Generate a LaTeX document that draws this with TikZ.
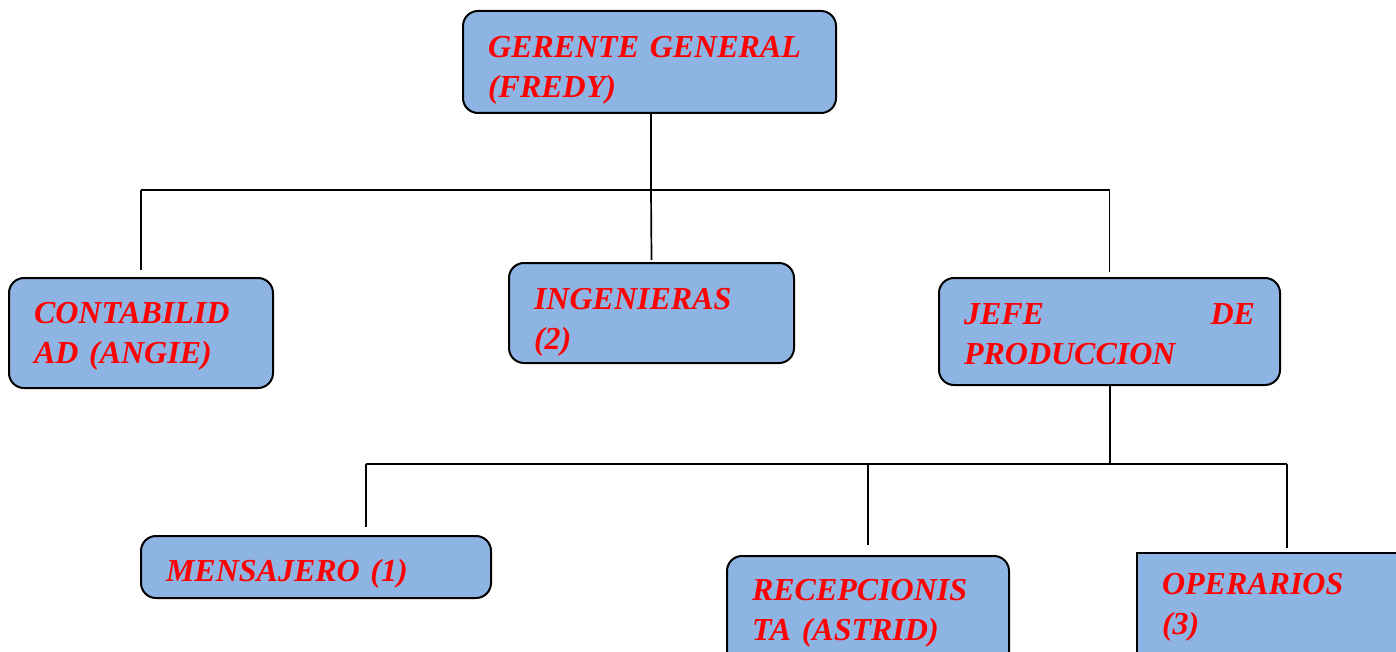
\documentclass[tikz,border=0pt]{standalone}
\usepackage{fontspec}
\setmainfont{Liberation Serif}
\usetikzlibrary{positioning}
\definecolor{boxblue}{RGB}{142,180,227}
\definecolor{textred}{RGB}{255,0,0}

\begin{document}
\begin{tikzpicture}[x=1pt, y=-1pt, line width=1.7pt,
  font=\fontsize{32}{40}\selectfont\bfseries\itshape,
  box/.style={draw, line width=2pt, rounded corners=15pt, fill=boxblue,
              text=textred, align=left, anchor=north west,
              inner xsep=25pt, inner ysep=0pt,
              execute at begin node={\rule{0pt}{#1}}},
  box/.default=42pt,
  flatbox/.style={box=#1, sharp corners}]
\clip (0,0) rectangle (1396,652);
\useasboundingbox (0,0) rectangle (1396,652);

\node[box=38pt, text width=323pt, minimum height=102pt] (gerente) at (462,10)
  {GERENTE GENERAL\\(FREDY)};
\node[box=28pt, text width=214pt, minimum height=110pt] (contab) at (8,277)
  {CONTABILID\\AD (ANGIE)};
\node[box=40pt, text width=235pt, minimum height=100pt] (ing) at (508,262)
  {INGENIERAS\\(2)};
\node[box=26pt, text width=291pt, minimum height=107pt] (jefe) at (938,277)
  {JEFE\hfill DE\\PRODUCCION};
\node[box=36pt, text width=300pt, minimum height=62pt] (mens) at (140,535)
  {MENSAJERO (1)};
\node[box=0pt, text width=232pt, minimum height=115pt] (recep) at (726,555)
  {RECEPCIONIS\\TA (ASTRID)};
\node[flatbox=0pt, text width=250pt, minimum height=108pt] (oper) at (1136,552)
  {OPERARIOS\\(3)};

% first level
\coordinate (bus1) at (651,190);
\draw (bus1 |- gerente.south) -- (bus1);
\draw (contab.north |- bus1) -- (jefe.north |- bus1);
\draw (contab.north |- bus1) -- ([yshift=7pt]contab.north);
\draw (bus1) -- ([yshift=2pt]ing.north);
\draw (jefe.north |- bus1) -- ([yshift=5pt]jefe.north);

% second level, under the jefe
\coordinate (bus2) at (1110,464);
\coordinate (mtop) at ([xshift=50pt, yshift=8pt]mens.north);
\draw (bus2 |- jefe.south) -- (bus2);
\draw (mtop |- bus2) -- (oper.north |- bus2);
\draw (mtop |- bus2) -- (mtop);
\draw (recep.north |- bus2) -- ([yshift=10pt]recep.north);
\draw (oper.north |- bus2) -- ([yshift=4pt]oper.north);

\end{tikzpicture}
\end{document}
